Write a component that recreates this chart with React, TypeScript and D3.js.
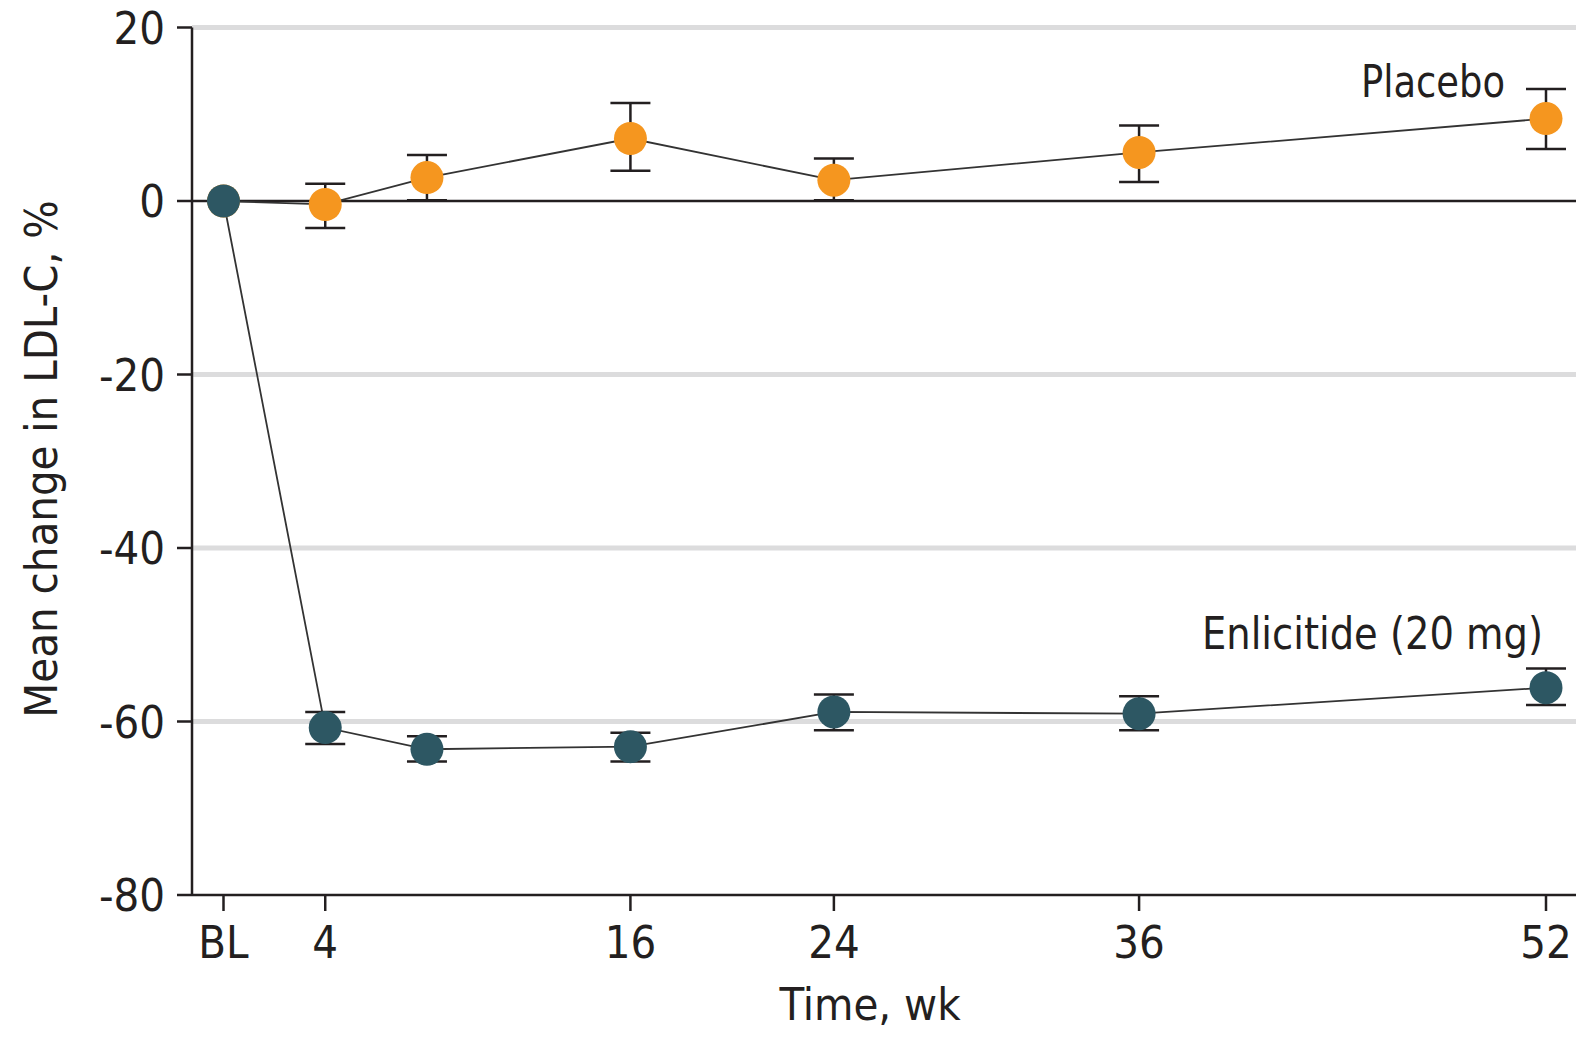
import React from "react";
import * as d3 from "d3";

// weeks on the x axis (0 = baseline)
const weeks = [0, 4, 8, 16, 24, 36, 52];
const xTicks = [0, 4, 16, 24, 36, 52];
const xTickLabels = ["BL", "4", "16", "24", "36", "52"];
const yTicks = [20, 0, -20, -40, -60, -80];
const gridValues = [20, -20, -40, -60];

// Placebo: mean and error bar limits (BL has no bar)
const placeboMean = [0, -0.4, 2.7, 7.2, 2.4, 5.6, 9.5];
const placeboHigh = [null, 2.0, 5.3, 11.3, 4.9, 8.7, 12.9];
const placeboLow = [null, -3.1, 0.1, 3.5, 0.1, 2.2, 6.0];

// Enlicitide 20 mg
const enliMean = [0, -60.7, -63.2, -62.9, -58.9, -59.1, -56.1];
const enliHigh = [null, -58.9, -61.7, -61.3, -56.9, -57.1, -53.9];
const enliLow = [null, -62.6, -64.6, -64.6, -61.0, -61.0, -58.1];

const W = 1579;
const H = 1038;
const font = "'Liberation Sans Narrow', 'DejaVu Sans Condensed', 'Noto Sans', sans-serif";
const orange = "#f5961f";
const teal = "#2d5763";
const ink = "#231f20";

export default function App() {
  const x = d3.scaleLinear().domain([0, 52]).range([223.5, 1546]);
  const y = d3.scaleLinear().domain([-80, 20]).range([895, 27.5]);
  const axisX = 192;
  const right = 1576;

  const line = d3
    .line<number>()
    .x((_, i) => x(weeks[i]))
    .y((d) => y(d));

  const series = [
    { name: "placebo", mean: placeboMean, hi: placeboHigh, lo: placeboLow, color: orange },
    { name: "enli", mean: enliMean, hi: enliHigh, lo: enliLow, color: teal },
  ];

  return (
    <svg
      width={W}
      height={H}
      style={{ position: "absolute", left: 0, top: 0, background: "#fff" }}
      fontFamily={font}
    >
      {/* gridlines */}
      {gridValues.map((v) => (
        <line key={v} x1={axisX} x2={right} y1={y(v)} y2={y(v)} stroke="#dcdcdd" strokeWidth={5} />
      ))}
      {/* zero reference line */}
      <line x1={axisX} x2={right} y1={y(0)} y2={y(0)} stroke={ink} strokeWidth={2.5} />

      {/* axes */}
      <line x1={axisX} x2={axisX} y1={y(20)} y2={y(-80)} stroke={ink} strokeWidth={2.5} />
      <line x1={axisX} x2={right} y1={y(-80)} y2={y(-80)} stroke={ink} strokeWidth={2.5} />
      {yTicks.map((v) => (
        <g key={v}>
          <line x1={axisX - 15} x2={axisX} y1={y(v)} y2={y(v)} stroke={ink} strokeWidth={2.5} />
          <text x={165} y={y(v)} dy="0.36em" textAnchor="end" fontSize={45} fill={ink}>
            {v}
          </text>
        </g>
      ))}
      {xTicks.map((v, i) => (
        <g key={v}>
          <line x1={x(v)} x2={x(v)} y1={y(-80)} y2={y(-80) + 16} stroke={ink} strokeWidth={2.5} />
          <text x={x(v)} y={958} textAnchor="middle" fontSize={45} fill={ink}>
            {xTickLabels[i]}
          </text>
        </g>
      ))}

      {/* axis titles */}
      <text
        transform={`translate(57,459) rotate(-90)`}
        textAnchor="middle"
        fontSize={45}
        fill={ink}
      >
        Mean change in LDL-C, %
      </text>
      <text x={870} y={1020} textAnchor="middle" fontSize={45} fill={ink}>
        Time, wk
      </text>

      {/* connecting lines */}
      {series.map((s) => (
        <path key={s.name} d={line(s.mean) || ""} fill="none" stroke="#333" strokeWidth={1.8} />
      ))}

      {/* error bars */}
      {series.map((s) =>
        s.mean.map((m, i) =>
          s.hi[i] == null ? null : (
            <g key={s.name + i} stroke={ink} strokeWidth={2.5}>
              <line x1={x(weeks[i])} x2={x(weeks[i])} y1={y(s.hi[i] as number)} y2={y(s.lo[i] as number)} />
              <line x1={x(weeks[i]) - 20} x2={x(weeks[i]) + 20} y1={y(s.hi[i] as number)} y2={y(s.hi[i] as number)} />
              <line x1={x(weeks[i]) - 20} x2={x(weeks[i]) + 20} y1={y(s.lo[i] as number)} y2={y(s.lo[i] as number)} />
            </g>
          )
        )
      )}

      {/* markers: placebo first, enlicitide on top so the BL point is teal */}
      {series.map((s) =>
        s.mean.map((m, i) => (
          <circle key={s.name + "c" + i} cx={x(weeks[i])} cy={y(m)} r={16.5} fill={s.color} />
        ))
      )}

      {/* series labels */}
      <text x={1361} y={97} fontSize={45} fill={ink} textLength={144} lengthAdjust="spacingAndGlyphs">
        Placebo
      </text>
      <text x={1202} y={649} fontSize={45} fill={ink} textLength={341} lengthAdjust="spacingAndGlyphs">
        Enlicitide (20 mg)
      </text>
    </svg>
  );
}
